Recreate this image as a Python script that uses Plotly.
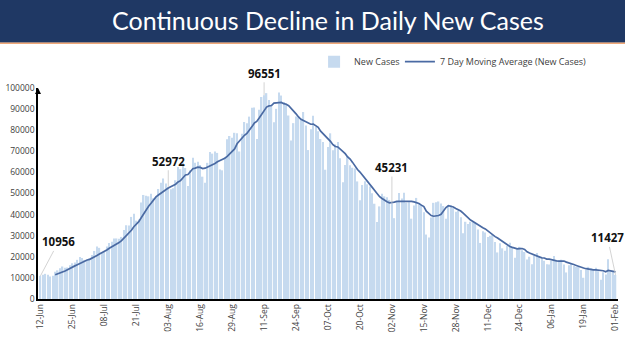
import plotly.graph_objects as go
import pandas as pd

start_date = "2020-06-12"
new_cases = [
    # Jun 12 - Jun 30
    10956, 11458, 11929, 11502, 10667, 10974, 12881, 13586, 14516, 15413,
    14821, 14933, 15968, 16922, 17296, 18552, 19906, 19459, 18522,
    # Jul
    18653, 19148, 20903, 22771, 24850, 24248, 22252, 22752, 24879, 26506,
    27114, 28637, 28701, 28498, 29429, 32695, 34956, 34884, 38902, 40425,
    37148, 37724, 45720, 49310, 48916, 48661, 49931, 47704, 48513, 52123,
    55078,
    # Aug
    57118, 54735, 52972, 52050, 52509, 56282, 62538, 61537, 64399, 62064,
    53601, 60963, 66999, 64553, 65002, 63490, 57981, 55079, 64531, 69652,
    68898, 69878, 69239, 61408, 60975, 67151, 75760, 77266, 76472, 78761,
    78512,
    # Sep
    69921, 78357, 83883, 83341, 86432, 90632, 90802, 75809, 89706, 95735,
    96551, 97570, 94372, 92071, 83809, 90123, 97894, 96424, 93337, 92605,
    86961, 75083, 83347, 86508, 86052, 85362, 88600, 82170, 70589, 80472,
    # Oct
    86821, 81484, 79476, 75829, 74442, 61267, 72049, 78524, 70496, 73272,
    74383, 66732, 55342, 63509, 67708, 63371, 62212, 61871, 55722, 46790,
    54044, 55839, 54366, 53370, 50129, 45149, 36469, 43893, 49881, 48648,
    48268,
    # Nov
    46963, 45231, 38310, 46253, 50209, 47638, 50356, 45674, 45903, 38073,
    44281, 47905, 44879, 44684, 41100, 30548, 29163, 38617, 45576, 45882,
    46232, 45209, 44059, 37975, 44376, 44489, 43082, 41322, 41810, 38772,
    # Dec
    31118, 36604, 35551, 36595, 36652, 36011, 32981, 26567, 32080, 31521,
    29398, 30006, 30254, 27071, 22065, 26382, 24010, 22890, 25152, 26624,
    24337, 19556, 23950, 24712, 23068, 22273, 18732, 20021, 16432, 20550,
    21822,
    # Jan
    20035, 19078, 18177, 16505, 16375, 18088, 20346, 18139, 18222, 18645,
    16311, 12584, 15968, 16946, 15590, 15158, 15144, 13788, 10064, 13823,
    15223, 14545, 14256, 14849, 13203, 9102, 12689, 11666, 18855, 13083,
    13052,
    # Feb 1
    11427,
]

dates = pd.date_range(start_date, periods=len(new_cases), freq="D")
moving_avg = pd.Series(new_cases).rolling(7).mean()

tick_dates = dates[::13]
tick_text = [d.strftime("%d-%b") for d in tick_dates]

callouts = [("2020-06-12", 10956), ("2020-08-03", 52972), ("2020-09-11", 96551),
            ("2020-11-02", 45231), ("2021-02-01", 11427)]
callout_offsets = [(18, -34), (0, -26), (0, -22), (0, -36), (-8, -37)]

fig = go.Figure()
fig.add_trace(go.Bar(x=dates, y=new_cases, name="New Cases", legend="legend",
                     marker=dict(color="#c6daef", line=dict(width=0))))
fig.add_trace(go.Scatter(x=dates, y=moving_avg, mode="lines", legend="legend2",
                         name="7 Day Moving Average (New Cases)",
                         line=dict(color="#4a6aa3", width=1.7)))

annotations = []
for (d, v), (ax, ay) in zip(callouts, callout_offsets):
    annotations.append(dict(x=d, y=v, xref="x", yref="y", text=f"<b>{v}</b>",
                            showarrow=True, arrowhead=0, arrowwidth=0.8,
                            arrowcolor="#c8c8c8", ax=ax, ay=ay,
                            font=dict(size=11.5, color="#111111", family="Open Sans")))
annotations.append(dict(x=0.5, y=1.32, xref="paper", yref="paper",
                        text="Continuous Decline in Daily New Cases", showarrow=False,
                        font=dict(size=25, color="white", family="Lato"),
                        xanchor="center", yanchor="middle"))
# arrow tip on top of the value axis
annotations.append(dict(x=0, y=100000, xref="paper", yref="y", text="",
                        showarrow=True, arrowhead=2, arrowsize=0.8, arrowwidth=1.5,
                        arrowcolor="black", ax=0, ay=6))
fig.update_layout(annotations=annotations)

# banner
fig.add_shape(type="rect", xref="paper", yref="paper", x0=-0.07, x1=1.02,
              y0=1.215, y1=1.43, fillcolor="#1f3864", line=dict(width=0), layer="below")
fig.add_shape(type="line", xref="paper", yref="paper", x0=-0.07, x1=1.02,
              y0=1.212, y1=1.212, line=dict(color="#f0a878", width=1.5))

legend_common = dict(orientation="h", xanchor="left", y=1.125, yanchor="middle",
                     font=dict(size=9, color="#404040", family="Open Sans"),
                     itemwidth=30, bgcolor="rgba(0,0,0,0)")
fig.update_layout(
    width=625, height=351,
    margin=dict(l=37, r=5, t=88, b=52),
    paper_bgcolor="white", plot_bgcolor="white",
    bargap=0.42,
    showlegend=True,
    legend=dict(x=0.476, **legend_common),
    legend2=dict(x=0.624, **legend_common),
    font=dict(family="Open Sans", color="#404040"),
)
fig.update_xaxes(type="date", range=["2020-06-11", "2021-02-02"],
                 tickvals=tick_dates, ticktext=tick_text, tickangle=-90,
                 tickfont=dict(size=8.5, color="#404040"),
                 showline=True, linecolor="black", linewidth=1.5,
                 showgrid=False, ticks="", zeroline=False)
fig.update_yaxes(range=[0, 100000], dtick=10000, tickformat="d",
                 tickfont=dict(size=8.5, color="#404040"),
                 showline=True, linecolor="black", linewidth=1.5,
                 showgrid=False, ticks="", zeroline=False)

fig.write_html("out.html")
